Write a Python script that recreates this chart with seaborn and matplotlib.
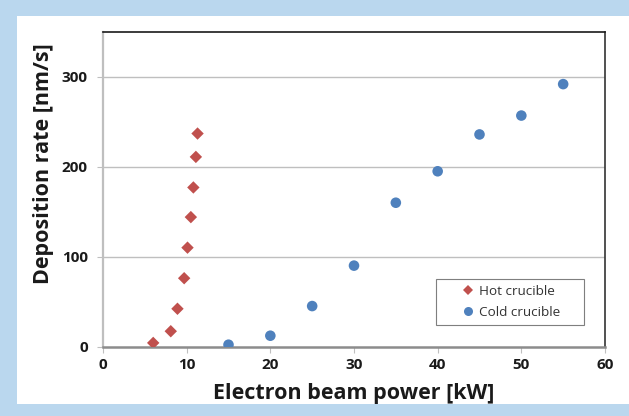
import matplotlib
matplotlib.use("Agg")
import matplotlib.pyplot as plt
from matplotlib.patches import Rectangle
import seaborn as sns
import pandas as pd

# Hot crucible measurements
hot_power = [6.0, 8.1, 8.9, 9.7, 10.1, 10.5, 10.8, 11.1, 11.3]
hot_rate = [4, 17, 42, 76, 110, 144, 177, 211, 237]

# Cold crucible measurements
cold_power = [15, 20, 25, 30, 35, 40, 45, 50, 55]
cold_rate = [2, 12, 45, 90, 160, 195, 236, 257, 292]

series_names = ["Hot crucible", "Cold crucible"]
x_ticks = [0, 10, 20, 30, 40, 50, 60]
y_ticks = [0, 100, 200, 300]

df = pd.DataFrame({
    "power": hot_power + cold_power,
    "rate": hot_rate + cold_rate,
    "crucible": [series_names[0]] * len(hot_power) + [series_names[1]] * len(cold_power),
})

sns.set_style("white")
plt.rcParams["font.family"] = ["Open Sans", "DejaVu Sans"]

fig = plt.figure(figsize=(6.29, 4.16), dpi=100)
ax = fig.add_axes([103 / 629, 1 - 346.5 / 416, 502 / 629, 314.5 / 416])

palette = {series_names[0]: "#C0504D", series_names[1]: "#4F81BD"}
markers = {series_names[0]: "D", series_names[1]: "o"}
sizes = {series_names[0]: 40, series_names[1]: 58}

sns.scatterplot(
    data=df, x="power", y="rate", hue="crucible", style="crucible", size="crucible",
    palette=palette, markers=markers, sizes=sizes, linewidth=0, ax=ax, zorder=3,
    legend=False,
)

ax.set_xlim(0, 60)
ax.set_ylim(0, 350)
ax.set_xticks(x_ticks)
ax.set_yticks(y_ticks)
ax.set_xticklabels([str(t) for t in x_ticks], fontsize=11, fontweight="bold", color="#1a1a1a")
ax.set_yticklabels([str(t) for t in y_ticks], fontsize=11, fontweight="bold", color="#1a1a1a")

for t in y_ticks[1:]:
    ax.axhline(t, color="#BFBFBF", linewidth=1.0, zorder=1)

ax.spines["left"].set_color("#BFBFBF")
ax.spines["left"].set_linewidth(1.6)
ax.spines["bottom"].set_color("#8C8C8C")
ax.spines["bottom"].set_linewidth(1.8)
ax.spines["top"].set_color("#1a1a1a")
ax.spines["top"].set_linewidth(1.2)
ax.spines["right"].set_color("#333333")
ax.spines["right"].set_linewidth(1.2)

ax.tick_params(axis="both", which="major", direction="out", length=4, width=0.8,
               color="#BFBFBF")
ax.tick_params(axis="x", pad=4)
ax.tick_params(axis="y", pad=7)
ax.tick_params(left=True, bottom=True)

ax.set_xlabel("Electron beam power [kW]", fontsize=15.5, fontweight="bold",
              color="#1a1a1a", va="baseline")
ax.xaxis.set_label_coords(0.5, -0.167)
ax.set_ylabel("Deposition rate [nm/s]", fontsize=15.5, fontweight="bold",
              color="#1a1a1a", ha="center", va="center")
ax.yaxis.set_label_coords(-0.1195, 0.580)

# Legend built from the same colour and marker mappings, inside a roomy box
handles = [
    plt.Line2D([], [], linestyle="none", marker=markers[n], color=palette[n],
               markersize=5.5 if markers[n] == "D" else 6.5, markeredgewidth=0)
    for n in series_names
]
leg = ax.legend(handles, series_names, loc="center", bbox_to_anchor=(0.8137, 0.1415),
                fontsize=9.7, frameon=False, handletextpad=0.4, borderpad=0.2,
                labelspacing=0.6, handlelength=0.8)
for txt in leg.get_texts():
    txt.set_color("#333333")
ax.add_patch(Rectangle((0.6633, 0.0684), 0.2948, 0.1463, transform=ax.transAxes,
                       facecolor="white", edgecolor="#7F7F7F", linewidth=0.8, zorder=4))
leg.set_zorder(5)

# Light blue page border
band = "#BAD7EE"
fig.add_artist(Rectangle((0, 1 - 16 / 416), 1, 16 / 416, transform=fig.transFigure,
                         color=band, zorder=10, linewidth=0))
fig.add_artist(Rectangle((0, 0), 17 / 629, 1, transform=fig.transFigure,
                         color=band, zorder=10, linewidth=0))
fig.add_artist(Rectangle((0, 0), 1, 12 / 416, transform=fig.transFigure,
                         color=band, zorder=10, linewidth=0))

fig.savefig("out.png", dpi=100)
